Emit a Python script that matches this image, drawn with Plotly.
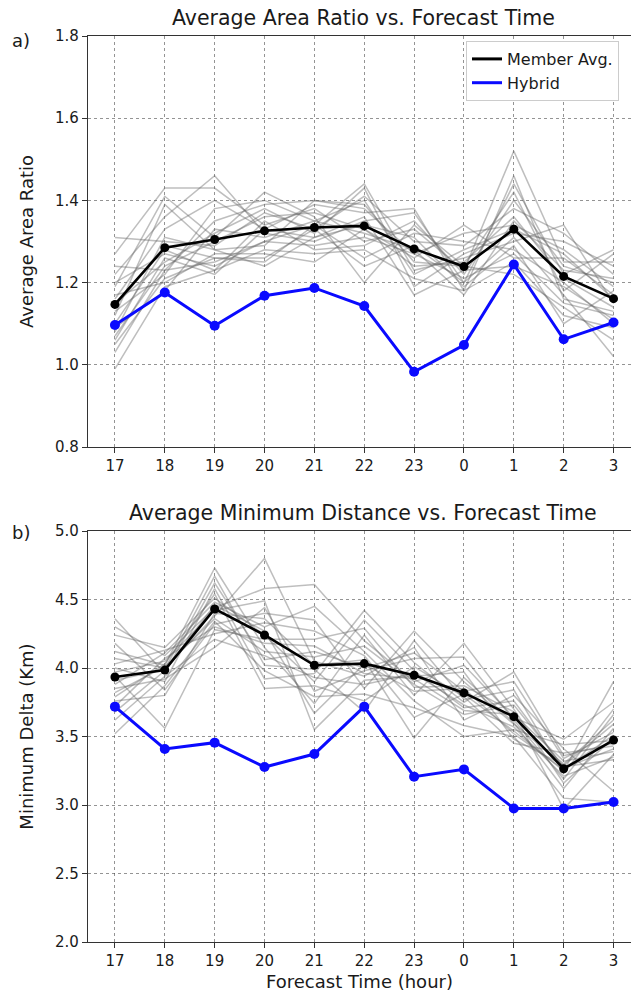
import plotly.graph_objects as go

# Forecast hours on the x axis
hours = ["17", "18", "19", "20", "21", "22", "23", "0", "1", "2", "3"]

# Panel a) average area ratio
area_member_avg = [1.147, 1.285, 1.305, 1.326, 1.334, 1.338, 1.282, 1.239, 1.330, 1.215, 1.161]
area_hybrid = [1.097, 1.176, 1.095, 1.168, 1.187, 1.143, 0.983, 1.048, 1.244, 1.062, 1.103]
area_members = [
    [1.31, 1.30, 1.29, 1.37, 1.33, 1.41, 1.30, 1.29, 1.38, 1.32, 1.22],
    [1.27, 1.43, 1.43, 1.34, 1.38, 1.30, 1.33, 1.23, 1.52, 1.25, 1.25],
    [1.24, 1.23, 1.35, 1.39, 1.40, 1.38, 1.27, 1.32, 1.34, 1.28, 1.19],
    [1.22, 1.36, 1.46, 1.32, 1.30, 1.35, 1.37, 1.20, 1.44, 1.22, 1.28],
    [1.20, 1.27, 1.24, 1.30, 1.34, 1.44, 1.23, 1.26, 1.30, 1.34, 1.15],
    [1.19, 1.41, 1.31, 1.42, 1.36, 1.20, 1.34, 1.24, 1.42, 1.18, 1.27],
    [1.17, 1.20, 1.27, 1.27, 1.25, 1.33, 1.26, 1.34, 1.26, 1.26, 1.17],
    [1.16, 1.33, 1.40, 1.33, 1.39, 1.37, 1.38, 1.18, 1.46, 1.16, 1.13],
    [1.15, 1.25, 1.32, 1.38, 1.32, 1.43, 1.19, 1.27, 1.32, 1.30, 1.24],
    [1.14, 1.29, 1.26, 1.25, 1.34, 1.26, 1.32, 1.30, 1.28, 1.20, 1.10],
    [1.13, 1.22, 1.38, 1.40, 1.35, 1.32, 1.28, 1.17, 1.35, 1.23, 1.21],
    [1.12, 1.39, 1.28, 1.29, 1.40, 1.39, 1.25, 1.24, 1.22, 1.14, 1.06],
    [1.10, 1.28, 1.23, 1.35, 1.28, 1.29, 1.35, 1.22, 1.40, 1.24, 1.20],
    [1.09, 1.18, 1.33, 1.31, 1.35, 1.40, 1.22, 1.28, 1.33, 1.27, 1.16],
    [1.08, 1.31, 1.28, 1.24, 1.31, 1.34, 1.31, 1.19, 1.29, 1.10, 1.18],
    [1.07, 1.24, 1.30, 1.36, 1.37, 1.33, 1.24, 1.25, 1.36, 1.21, 1.14],
    [1.06, 1.26, 1.22, 1.33, 1.31, 1.36, 1.17, 1.23, 1.24, 1.19, 1.11],
    [1.05, 1.21, 1.26, 1.26, 1.33, 1.24, 1.29, 1.20, 1.31, 1.17, 1.02],
    [1.03, 1.23, 1.25, 1.30, 1.29, 1.31, 1.27, 1.21, 1.27, 1.15, 1.12],
    [0.99, 1.19, 1.23, 1.28, 1.27, 1.28, 1.21, 1.18, 1.25, 1.12, 1.09],
]

# Panel b) average minimum distance
dist_member_avg = [3.934, 3.985, 4.431, 4.241, 4.020, 4.032, 3.947, 3.818, 3.645, 3.265, 3.474]
dist_hybrid = [3.718, 3.409, 3.455, 3.277, 3.372, 3.718, 3.207, 3.260, 2.975, 2.975, 3.022]
dist_members = [
    [4.36, 3.96, 4.62, 4.06, 4.12, 4.00, 4.11, 3.83, 3.90, 3.34, 3.53],
    [4.30, 4.09, 4.44, 4.58, 4.61, 4.20, 3.90, 4.02, 3.64, 3.48, 3.75],
    [4.24, 4.15, 4.51, 4.24, 3.90, 4.35, 3.98, 3.71, 3.76, 3.27, 3.41],
    [4.18, 3.84, 4.32, 4.40, 4.35, 3.85, 4.27, 3.90, 3.59, 3.30, 3.62],
    [4.12, 4.02, 4.73, 4.15, 3.74, 4.24, 3.80, 4.18, 3.70, 3.16, 3.49],
    [4.07, 4.00, 4.38, 4.80, 4.05, 3.94, 4.15, 3.62, 3.80, 3.41, 3.10],
    [4.03, 4.13, 4.25, 4.33, 4.27, 4.09, 3.64, 3.81, 3.54, 3.25, 3.90],
    [4.00, 3.90, 4.58, 3.92, 3.96, 4.42, 4.04, 3.75, 3.97, 3.36, 3.45],
    [3.97, 4.05, 4.42, 4.49, 3.55, 3.91, 3.94, 3.97, 3.48, 3.29, 3.59],
    [3.94, 3.56, 4.28, 4.21, 4.21, 4.29, 3.86, 3.87, 3.68, 2.97, 3.37],
    [3.91, 3.99, 4.67, 4.02, 3.99, 3.68, 4.20, 3.77, 3.84, 3.23, 3.70],
    [3.88, 4.11, 4.48, 4.30, 4.45, 4.12, 3.76, 3.50, 3.55, 3.44, 3.47],
    [3.85, 3.92, 4.15, 4.44, 3.83, 3.98, 4.07, 4.08, 3.62, 3.19, 3.66],
    [3.82, 4.01, 4.36, 4.12, 4.08, 4.16, 3.88, 3.66, 3.73, 3.28, 3.33],
    [3.79, 4.03, 4.54, 3.85, 3.87, 3.76, 4.01, 3.79, 3.45, 3.38, 3.43],
    [3.76, 3.80, 4.40, 4.36, 4.02, 4.06, 3.49, 3.93, 3.60, 3.12, 3.56],
    [3.72, 4.07, 4.30, 4.18, 4.16, 3.96, 3.92, 3.69, 3.66, 3.32, 3.39],
    [3.68, 3.98, 4.46, 4.27, 3.67, 4.03, 3.83, 3.85, 3.52, 3.26, 3.51],
    [3.62, 3.94, 4.21, 4.09, 3.93, 3.88, 3.96, 3.73, 3.57, 3.21, 3.35],
    [3.52, 3.87, 4.34, 3.98, 3.79, 3.81, 3.71, 3.58, 3.50, 3.05, 3.02],
]

FONT = "DejaVu Sans"
TXT = "#1a1a1a"
BLUE = "#0a0aff"
W, H = 631, 997
ML, MR, MT, MB = 88, 0, 36, 55
PH = H - MT - MB
x = list(range(len(hours)))

fig = go.Figure()


def add_panel(members, avg, hybrid, xa, ya):
    for row in members:
        fig.add_trace(go.Scatter(
            x=x, y=row, mode="lines", xaxis=xa, yaxis=ya,
            line=dict(color="rgba(100,100,100,0.42)", width=1.5),
            showlegend=False, hoverinfo="skip"))
    fig.add_trace(go.Scatter(
        x=x, y=avg, mode="lines+markers", name="Member Avg.", xaxis=xa, yaxis=ya,
        line=dict(color="black", width=2.6), marker=dict(color="black", size=9),
        showlegend=False))
    fig.add_trace(go.Scatter(
        x=x, y=hybrid, mode="lines+markers", name="Hybrid", xaxis=xa, yaxis=ya,
        line=dict(color=BLUE, width=3), marker=dict(color=BLUE, size=10),
        showlegend=False))


add_panel(area_members, area_member_avg, area_hybrid, "x", "y")
add_panel(dist_members, dist_member_avg, dist_hybrid, "x2", "y2")

# Line-only legend handles
for name, col, w in [("Member Avg.", "black", 3), ("Hybrid", BLUE, 3)]:
    fig.add_trace(go.Scatter(x=[None], y=[None], mode="lines", name=name,
                             line=dict(color=col, width=w), xaxis="x", yaxis="y"))

top_dom = [(942 - 447) / PH, 1.0]
bot_dom = [0.0, (942 - 531) / PH]

GRID = "rgba(60,60,60,0.55)"
xcommon = dict(
    range=[-0.54, 10.35], tickvals=x, ticktext=hours,
    showgrid=True, gridcolor=GRID, griddash="dot", gridwidth=1,
    showline=True, linecolor="#333", linewidth=1.2, mirror=True,
    ticks="outside", ticklen=5, tickcolor="#333",
    tickfont=dict(family=FONT, size=15, color=TXT), zeroline=False,
)
ycommon = dict(
    showgrid=True, gridcolor=GRID, griddash="dot", gridwidth=1,
    showline=True, linecolor="#333", linewidth=1.2,
    ticks="outside", ticklen=5, tickcolor="#333", tickformat=".1f",
    tickfont=dict(family=FONT, size=15, color=TXT), zeroline=False,
)

fig.update_layout(
    width=W, height=H,
    margin=dict(l=ML, r=MR, t=MT, b=MB),
    paper_bgcolor="white", plot_bgcolor="white",
    font=dict(family=FONT, color=TXT),
    xaxis=dict(domain=[0, 1], anchor="y", **xcommon),
    yaxis=dict(domain=top_dom, anchor="x", range=[0.8, 1.8], dtick=0.2, tick0=0.8,
               title=dict(text="Average Area Ratio", font=dict(family=FONT, size=18, color=TXT), standoff=16),
               **ycommon),
    xaxis2=dict(domain=[0, 1], anchor="y2",
                title=dict(text="Forecast Time (hour)", font=dict(family=FONT, size=18, color=TXT), standoff=6),
                **xcommon),
    yaxis2=dict(domain=bot_dom, anchor="x2", range=[2.0, 5.0], dtick=0.5, tick0=2.0,
                title=dict(text="Minimum Delta (Km)", font=dict(family=FONT, size=18, color=TXT), standoff=16),
                **ycommon),
    legend=dict(
        x=(466 - ML) / (W - ML - MR), y=(942 - 41) / PH, xanchor="left", yanchor="top",
        bgcolor="white", bordercolor="#cccccc", borderwidth=1,
        font=dict(family=FONT, size=16, color=TXT),
        itemwidth=30, tracegroupgap=2, entrywidth=125,
    ),
    showlegend=True,
)


def ypix(p):
    return (942 - p) / PH


def xpix(p):
    return (p - ML) / (W - ML - MR)


annots = [
    dict(text="Average Area Ratio vs. Forecast Time", x=xpix(363), y=ypix(18), size=20.5),
    dict(text="Average Minimum Distance vs. Forecast Time", x=xpix(363), y=ypix(513), size=20.5),
    dict(text="a)", x=xpix(21), y=ypix(40), size=18),
    dict(text="b)", x=xpix(21), y=ypix(532), size=18),
]
for a in annots:
    fig.add_annotation(
        text=a["text"], x=a["x"], y=a["y"], xref="paper", yref="paper",
        xanchor="center", yanchor="middle", showarrow=False,
        font=dict(family=FONT, size=a["size"], color=TXT),
    )

fig.write_html("out.html")
